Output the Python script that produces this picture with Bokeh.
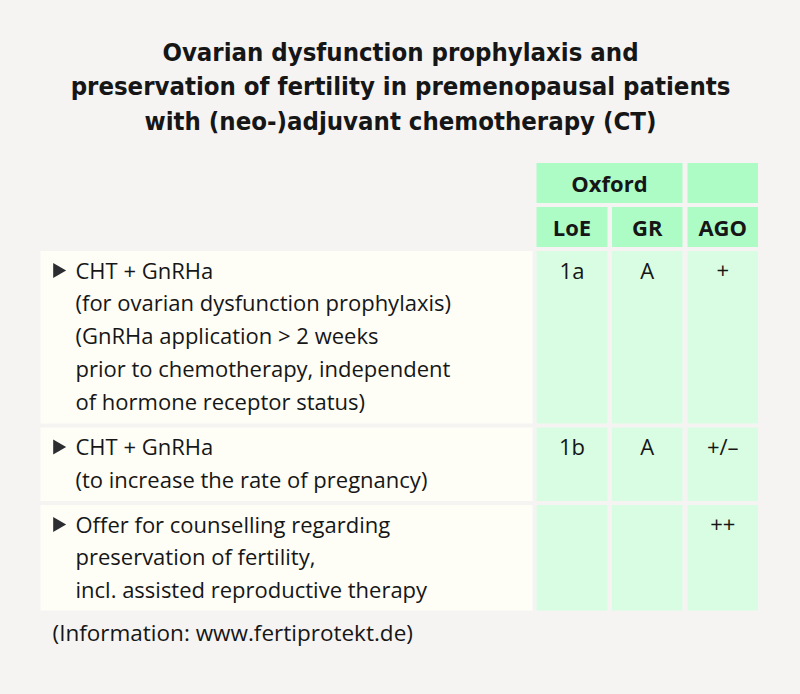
from bokeh.plotting import figure
from bokeh.models import Range1d
from bokeh.embed import file_html
from bokeh.resources import INLINE
from bokeh.core.properties import value
import math

# ---- data ----
title_lines = ["Ovarian dysfunction prophylaxis and",
               "preservation of fertility in premenopausal patients",
               "with (neo-)adjuvant chemotherapy (CT)"]
group_headers = ["Oxford", ""]
col_headers = ["LoE", "GR", "AGO"]
row_texts = [
    ["CHT + GnRHa", "(for ovarian dysfunction prophylaxis)", "(GnRHa application > 2 weeks",
     "prior to chemotherapy, independent", "of hormone receptor status)"],
    ["CHT + GnRHa", "(to increase the rate of pregnancy)"],
    ["Offer for counselling regarding", "preservation of fertility,",
     "incl. assisted reproductive therapy"],
]
loe = ["1a", "1b", ""]
gr = ["A", "A", ""]
ago = ["+", "+/\u2013", "++"]
footnote = "(Information: www.fertiprotekt.de)"

# ---- layout / style ----
BG = "#f5f4f2"
HEAD = "#adfcc5"
CELL = "#d9fde2"
LEFT = "#fefef7"
INK = "#161616"
TITLE_FONT = "DejaVu Sans Condensed"
BODY_FONT = "Open Sans"

W, H = 800, 694
col_l = [40, 536, 611.5, 687]
col_r = [532, 607, 682, 757.5]
head_rows = [(162.5, 202.5), (206.5, 246.5)]
body_rows = [(250.5, 423), (427, 500.5), (504.5, 610)]
line_gap = 32.8
first_off = 18.5

p = figure(width=W, height=H, x_range=Range1d(0, W), y_range=Range1d(H, 0),
           output_backend="svg", toolbar_location=None, min_border=0)
p.axis.visible = False
p.grid.visible = False
p.outline_line_color = None
p.background_fill_color = BG
p.border_fill_color = BG

# cells
ql, qr, qt, qb, qc = [], [], [], [], []
ql += [col_l[1], col_l[3]]; qr += [col_r[2], col_r[3]]
qt += [head_rows[0][0]] * 2; qb += [head_rows[0][1]] * 2; qc += [HEAD] * 2
for c in range(1, 4):
    ql.append(col_l[c]); qr.append(col_r[c]); qt.append(head_rows[1][0]); qb.append(head_rows[1][1]); qc.append(HEAD)
for (t, b) in body_rows:
    for c in range(4):
        ql.append(col_l[c]); qr.append(col_r[c]); qt.append(t); qb.append(b); qc.append(LEFT if c == 0 else CELL)
p.quad(left=ql, right=qr, top=qt, bottom=qb, fill_color=qc, line_color=None)

# title
p.text(x=[400] * 3, y=[51, 85.5, 120], text=title_lines, text_font=value(TITLE_FONT),
       text_font_style="bold", text_font_size="25.5px", text_align="center",
       text_baseline="middle", text_color=INK)

# headers
hx = [(col_l[1] + col_r[2]) / 2] + [(col_l[c] + col_r[c]) / 2 for c in range(1, 4)]
hy = [sum(head_rows[0]) / 2] + [sum(head_rows[1]) / 2] * 3
p.text(x=hx, y=hy, text=[group_headers[0]] + col_headers, text_font=value(BODY_FONT),
       text_font_style="bold", text_font_size="22px", text_align="center",
       text_baseline="middle", text_color=INK)

# row text
tx, ty, tt = [], [], []
bx, by = [], []
for r, lines in enumerate(row_texts):
    top = body_rows[r][0]
    bx.append(57); by.append(top + first_off + 1)
    for i, ln in enumerate(lines):
        tx.append(75); ty.append(top + first_off + i * line_gap); tt.append(ln)
p.text(x=tx, y=ty, text=tt, text_font=value(BODY_FONT), text_font_size="22px",
       text_align="left", text_baseline="middle", text_color=INK)
p.scatter(x=bx, y=by, marker="triangle", size=15, angle=-math.pi / 2,
          fill_color="#2b2d30", line_color=None)

# values
vx, vy, vt = [], [], []
for r in range(3):
    top = body_rows[r][0]
    for c, vals in zip(range(1, 4), [loe, gr, ago]):
        if vals[r]:
            vx.append((col_l[c] + col_r[c]) / 2); vy.append(top + first_off); vt.append(vals[r])
p.text(x=vx, y=vy, text=vt, text_font=value(BODY_FONT), text_font_size="22px",
       text_align="center", text_baseline="middle", text_color=INK)

# footnote
p.text(x=[52], y=[632], text=[footnote], text_font=value(BODY_FONT), text_font_size="22.5px",
       text_align="left", text_baseline="middle", text_color=INK)

html = file_html(p, INLINE)
html = html.replace("<head>", "<head><style>html,body{background:%s;}</style>" % BG, 1)
open("out.html", "w").write(html)
